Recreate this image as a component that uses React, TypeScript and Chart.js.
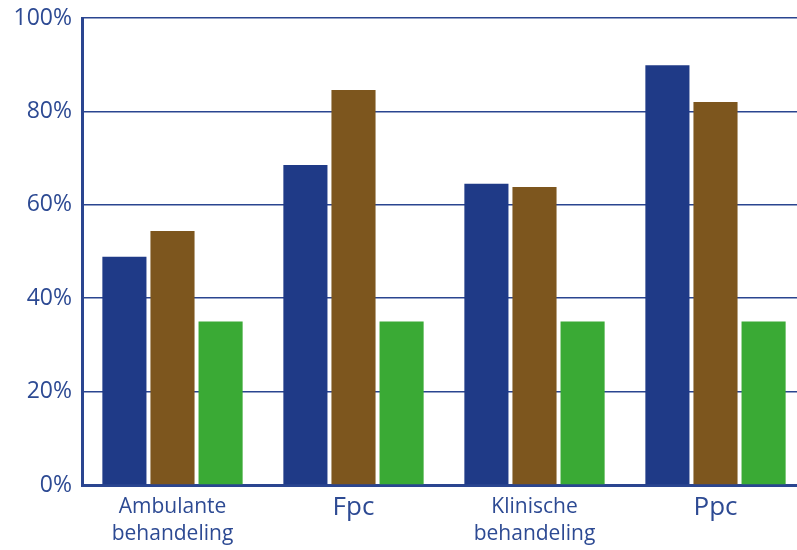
import React, { useEffect, useRef } from "react";
import { Chart, registerables } from "chart.js";

Chart.register(...registerables);

const categories: string[][] = [["Ambulante", "behandeling"], ["Fpc"], ["Klinische", "behandeling"], ["Ppc"]];
const seriesBlue = [48.9, 68.5, 64.5, 89.9];
const seriesBrown = [54.4, 84.6, 63.8, 82.0];
const seriesGreen = [35, 35, 35, 35];
const yTicks = [0, 20, 40, 60, 80, 100];

const LABEL = "#2d4a93";
const GRID = "#2a4590";

export default function App() {
  const ref = useRef<HTMLCanvasElement | null>(null);
  useEffect(() => {
    document.body.style.margin = "0";
    const ctx = ref.current!;
    const ds = (data: number[], color: string) => ({
      data,
      backgroundColor: color,
      borderWidth: 0,
      barPercentage: 0.917,
      categoryPercentage: 0.797,
    });
    const chart = new Chart(ctx, {
      type: "bar",
      data: {
        labels: categories,
        datasets: [ds(seriesBlue, "#1f3a87"), ds(seriesBrown, "#7d561e"), ds(seriesGreen, "#3aaa35")],
      },
      options: {
        animation: false,
        responsive: false,
        maintainAspectRatio: false,
        layout: { padding: { top: 18, left: 0, right: 0, bottom: 0 } },
        plugins: { legend: { display: false }, tooltip: { enabled: false } },
        scales: {
          x: {
            grid: { display: false, drawTicks: false },
            border: { display: true, color: GRID, width: 3 },
            ticks: {
              color: LABEL,
              padding: 8,
              font: (c: any) =>
                c.index % 2 === 1
                  ? { family: "'Open Sans', sans-serif", size: 26, lineHeight: 1.1 }
                  : { family: "'Open Sans', sans-serif", size: 21, lineHeight: 1.3 },
            },
            afterFit: (s: any) => {
              s.height = 65;
            },
          },
          y: {
            min: 0,
            max: 100,
            afterBuildTicks: (s: any) => {
              s.ticks = yTicks.map((v) => ({ value: v }));
            },
            grid: { color: GRID, lineWidth: 1.5, drawTicks: false },
            border: { display: true, color: GRID, width: 3 },
            ticks: {
              color: LABEL,
              padding: 10,
              font: { family: "'Open Sans', sans-serif", size: 23 },
              callback: (v: any) => v + "%",
            },
            afterFit: (s: any) => {
              s.width = 82;
              s.paddingTop = 0;
              s.paddingBottom = 0;
            },
          },
        },
      },
    });
    return () => chart.destroy();
  }, []);
  return (
    <div style={{ position: "fixed", left: 0, top: 0, width: 797, height: 550, overflow: "hidden", background: "#fff" }}>
      <canvas ref={ref} width={806} height={550} style={{ width: 806, height: 550, display: "block" }} />
    </div>
  );
}
